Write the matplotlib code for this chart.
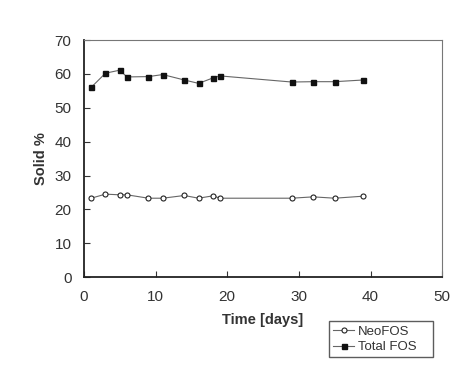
import matplotlib
matplotlib.use('Agg')
import matplotlib.pyplot as plt

# values
days_total = [1, 3, 5, 6, 9, 11, 14, 16, 18, 19, 29, 32, 35, 39]
total_fos = [56.0, 60.2, 61.1, 59.1, 59.2, 59.8, 58.2, 57.2, 58.8, 59.4, 57.6, 57.7, 57.7, 58.2]

days_neo = [1, 3, 5, 6, 9, 11, 14, 16, 18, 19, 29, 32, 35, 39]
neo_fos = [23.3, 24.5, 24.3, 24.3, 23.3, 23.3, 24.1, 23.3, 24.0, 23.3, 23.3, 23.7, 23.3, 23.9]

x_ticks = [0, 10, 20, 30, 40, 50]
y_ticks = [0, 10, 20, 30, 40, 50, 60, 70]

plt.rcParams['font.family'] = ['Liberation Sans', 'DejaVu Sans']

fig = plt.figure(figsize=(4.77, 3.74), dpi=100)
ax = fig.add_axes([0.176, 0.259, 0.751, 0.634])

line_col = '#666666'
neo, = ax.plot(days_neo, neo_fos, '-o', color=line_col, lw=0.8,
               markersize=3.6, markerfacecolor='white', markeredgecolor='#222222',
               markeredgewidth=0.8, label='NeoFOS')
tot, = ax.plot(days_total, total_fos, '-s', color=line_col, lw=0.8,
               markersize=3.6, markerfacecolor='#111111', markeredgecolor='#111111',
               label='Total FOS')

ax.set_xlim(0, 50)
ax.set_ylim(0, 70)
ax.set_xticks(x_ticks)
ax.set_yticks(y_ticks)
ax.tick_params(direction='in', length=4, width=0.8, colors='#333333',
               labelsize=11, labelcolor='#333333', pad=9)

for side in ['left', 'bottom']:
    ax.spines[side].set_linewidth(1.3)
    ax.spines[side].set_color('#222222')
for side in ['top', 'right']:
    ax.spines[side].set_linewidth(0.8)
    ax.spines[side].set_color('#777777')

ax.set_xlabel('Time [days]', fontsize=10.5, fontweight='bold', color='#333333', labelpad=7)
ax.set_ylabel('Solid %', fontsize=10.5, fontweight='bold', color='#333333', labelpad=5)

leg = fig.legend(handles=[neo, tot], loc='lower left',
                 bbox_to_anchor=(0.69, 0.045, 0.218, 0.11), mode='expand',
                 fontsize=9.5, frameon=True, fancybox=False, handlelength=1.6,
                 handletextpad=0.3, borderpad=0.3, labelspacing=0.25,
                 borderaxespad=0)
leg.get_frame().set_edgecolor('#333333')
leg.get_frame().set_linewidth(1.0)
for t in leg.get_texts():
    t.set_color('#333333')

fig.savefig('out.png', dpi=100)
